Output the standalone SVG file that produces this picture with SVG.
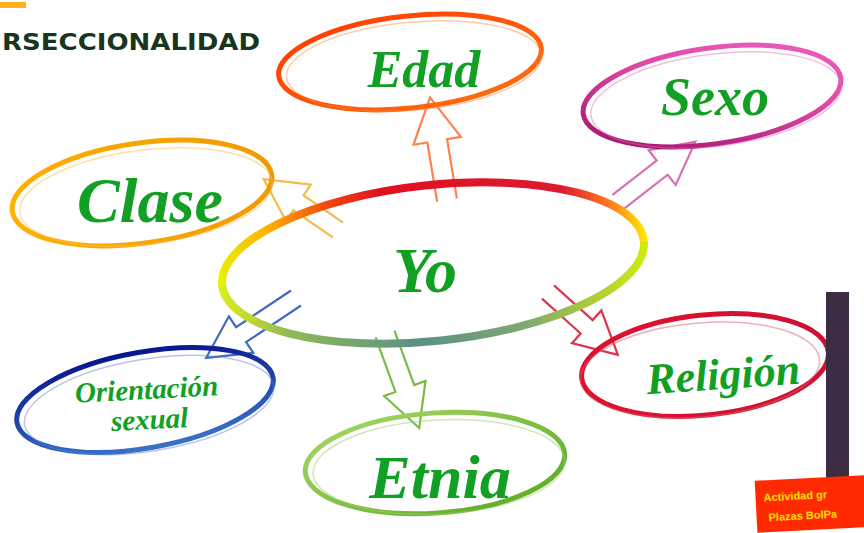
<svg xmlns="http://www.w3.org/2000/svg" width="864" height="533" viewBox="0 0 864 533">
<style>
.lbl{font-family:"Liberation Serif","DejaVu Serif",serif;font-style:italic;font-weight:bold;fill:#12a024;text-anchor:middle}
.ring{fill:none}
.arr{fill:none;stroke-width:2.2;stroke-linejoin:miter}
.title{font-family:"DejaVu Sans","Liberation Sans",sans-serif;font-weight:bold;fill:#17361d}
.tag{font-family:"Liberation Sans",sans-serif;font-weight:bold;fill:#ffe000;font-size:11px}
</style>
<defs>
<linearGradient id="yoTop" gradientUnits="userSpaceOnUse" x1="-212" y1="0" x2="212" y2="0">
<stop offset="0" stop-color="#e8f000"/><stop offset="0.12" stop-color="#ffb000"/><stop offset="0.28" stop-color="#f04010"/><stop offset="0.4" stop-color="#e01020"/><stop offset="0.82" stop-color="#dd1a30"/><stop offset="0.93" stop-color="#ff7a20"/><stop offset="1" stop-color="#ffe000"/>
</linearGradient>
<linearGradient id="yoBot" gradientUnits="userSpaceOnUse" x1="-212" y1="0" x2="212" y2="0">
<stop offset="0" stop-color="#d8ea20"/><stop offset="0.15" stop-color="#90b858"/><stop offset="0.45" stop-color="#5a9088"/><stop offset="0.7" stop-color="#80a870"/><stop offset="1" stop-color="#d0ea10"/>
</linearGradient>
<linearGradient id="gEdad" x1="0" y1="0" x2="1" y2="1"><stop offset="0" stop-color="#ff3a00"/><stop offset="1" stop-color="#ff7010"/></linearGradient>
<linearGradient id="gSexo" x1="0" y1="1" x2="1" y2="0"><stop offset="0" stop-color="#9a0a66"/><stop offset="0.6" stop-color="#e04aa8"/><stop offset="1" stop-color="#f060c0"/></linearGradient>
<linearGradient id="gClase" x1="0" y1="0" x2="1" y2="0"><stop offset="0" stop-color="#ffb000"/><stop offset="1" stop-color="#f09a00"/></linearGradient>
<linearGradient id="gRel" x1="0" y1="0" x2="1" y2="0"><stop offset="0" stop-color="#e01030"/><stop offset="1" stop-color="#d01030"/></linearGradient>
<linearGradient id="gOri" x1="0" y1="0" x2="0" y2="1"><stop offset="0" stop-color="#081890"/><stop offset="1" stop-color="#3a70c8"/></linearGradient>
<linearGradient id="gEtn" x1="0" y1="0" x2="1" y2="1"><stop offset="0" stop-color="#a8d868"/><stop offset="1" stop-color="#58a820"/></linearGradient>
</defs>

<rect width="864" height="533" fill="#ffffff"/>
<rect x="0" y="2" width="26" height="6" fill="#ffb020"/>
<text class="title" x="2" y="50" font-size="23" textLength="258" lengthAdjust="spacingAndGlyphs">RSECCIONALIDAD</text>

<g id="connectors">
<path class="arr" stroke="#ff6a28" stroke-opacity="0.85" transform="translate(447,200) rotate(-99.4)" d="M0,-10 L60,-10 L60,-24 L104,0 L60,24 L60,10 L0,10"/>
<path class="arr" stroke="#d04aa0" stroke-opacity="0.8" transform="translate(618,202) rotate(-37.9)" d="M0,-9 L56,-9 L56,-22 L98,0 L56,22 L56,9 L0,9"/>
<path class="arr" stroke="#f5a820" stroke-opacity="0.8" transform="translate(338,230) rotate(214.4)" d="M0,-9 L48,-9 L48,-22 L90,0 L48,22 L48,9 L0,9"/>
<path class="arr" stroke="#d81030" stroke-opacity="0.85" transform="translate(548,292) rotate(42)" d="M0,-9 L52,-9 L52,-22 L94,0 L52,22 L52,9 L0,9"/>
<path class="arr" stroke="#60b028" stroke-opacity="0.85" transform="translate(385,334) rotate(70)" d="M0,-10 L58,-10 L58,-22 L100,0 L58,22 L58,10 L0,10"/>
<path class="arr" stroke="#2050b8" stroke-opacity="0.85" transform="translate(296,298) rotate(146.3)" d="M0,-9 L66,-9 L66,-22 L108,0 L66,22 L66,9 L0,9"/>
</g>

<g id="node-edad">
<ellipse class="ring" cx="410" cy="62" rx="132" ry="46" transform="rotate(-6 410 62)" stroke="url(#gEdad)" stroke-width="5"/>
<ellipse class="ring" cx="414" cy="66" rx="128" ry="44" transform="rotate(-5 414 66)" stroke="#ff8a40" stroke-width="1.5" stroke-opacity="0.45"/>
<text class="lbl" x="424" y="87" font-size="52">Edad</text>
</g>

<g id="node-sexo">
<ellipse class="ring" cx="712" cy="96" rx="130" ry="48" transform="rotate(-8 712 96)" stroke="url(#gSexo)" stroke-width="5"/>
<ellipse class="ring" cx="716" cy="100" rx="126" ry="46" transform="rotate(-7 716 100)" stroke="#e070b8" stroke-width="1.5" stroke-opacity="0.45"/>
<text class="lbl" x="715" y="115" font-size="54">Sexo</text>
</g>

<g id="node-clase">
<ellipse class="ring" cx="142" cy="193" rx="131" ry="50" transform="rotate(-8 142 193)" stroke="url(#gClase)" stroke-width="5"/>
<ellipse class="ring" cx="146" cy="197" rx="127" ry="47" transform="rotate(-7 146 197)" stroke="#ffc050" stroke-width="1.5" stroke-opacity="0.5"/>
<text class="lbl" x="150" y="222" font-size="64">Clase</text>
</g>

<g id="node-yo">
<g transform="translate(433,263) rotate(-6)">
<path class="ring" d="M-212,0 A212,78 0 0 1 212,0" stroke="url(#yoTop)" stroke-width="8"/>
<path class="ring" d="M212,0 A212,78 0 0 1 -212,0" stroke="url(#yoBot)" stroke-width="8"/>
</g>
<text class="lbl" x="425" y="292" font-size="64">Yo</text>
</g>

<g id="node-religion">
<ellipse class="ring" cx="705" cy="365" rx="124" ry="50" transform="rotate(-6 705 365)" stroke="url(#gRel)" stroke-width="5"/>
<ellipse class="ring" cx="700" cy="370" rx="120" ry="47" transform="rotate(-5 700 370)" stroke="#e06070" stroke-width="1.5" stroke-opacity="0.5"/>
<text class="lbl" x="724" y="389" font-size="44" transform="rotate(-4 724 389)">Religión</text>
</g>

<g id="node-orientacion">
<ellipse class="ring" cx="145" cy="400" rx="130" ry="48" transform="rotate(-10 145 400)" stroke="url(#gOri)" stroke-width="5"/>
<ellipse class="ring" cx="149" cy="405" rx="126" ry="46" transform="rotate(-9 149 405)" stroke="#6080c8" stroke-width="1.5" stroke-opacity="0.45"/>
<text class="lbl" x="147" y="399" font-size="29" transform="rotate(-3 147 399)">Orientación</text>
<text class="lbl" x="150" y="429" font-size="29" transform="rotate(-3 150 429)">sexual</text>
</g>

<g id="node-etnia">
<ellipse class="ring" cx="435" cy="463" rx="130" ry="50" transform="rotate(-4 435 463)" stroke="url(#gEtn)" stroke-width="5"/>
<ellipse class="ring" cx="439" cy="467" rx="126" ry="47" transform="rotate(-3 439 467)" stroke="#a0d070" stroke-width="1.5" stroke-opacity="0.5"/>
<text class="lbl" x="440" y="498" font-size="62">Etnia</text>
</g>

<rect x="826" y="292" width="23" height="186" fill="#3e2c45"/>
<g transform="rotate(-3 810 505)">
<rect x="756" y="478" width="120" height="52" fill="#ff2a00"/>
<text class="tag" x="764" y="499">Actividad gr</text>
<text class="tag" x="768" y="519">Plazas BolPa</text>
</g>
</svg>
